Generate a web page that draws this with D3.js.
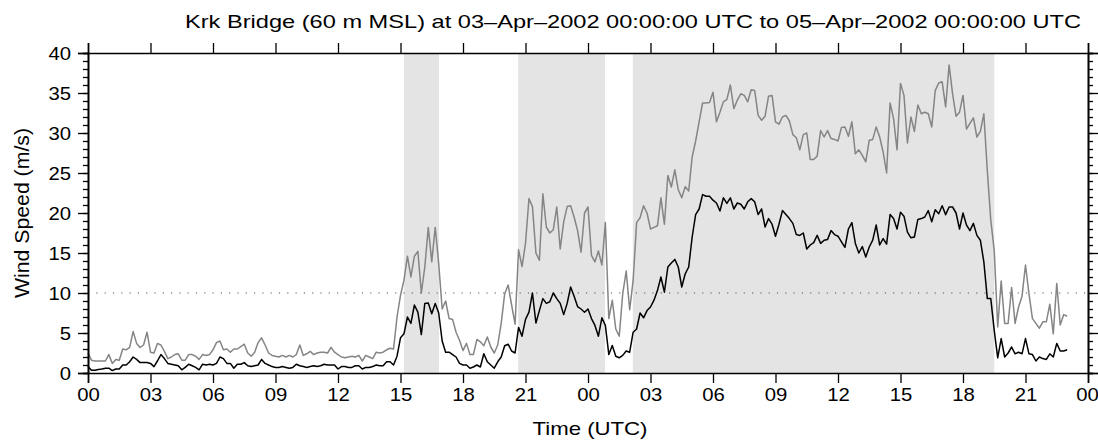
<!DOCTYPE html>
<html>
<head>
<meta charset="utf-8">
<script src="https://cdn.jsdelivr.net/npm/d3@7"></script>
<style>
  html, body { margin: 0; padding: 0; background: #fff; }
  svg text { font-family: "Liberation Sans", Arial, Helvetica, sans-serif; fill: #000; }
</style>
</head>
<body>
<svg id="chart" width="1098" height="442"></svg>
<script>
// ---- data (10-minute samples starting 03-Apr-2002 00:00 UTC) ----
const titleText = "Krk Bridge (60 m MSL) at 03\u2013Apr\u20132002 00:00:00 UTC to 05\u2013Apr\u20132002 00:00:00 UTC";
const xAxisTitle = "Time (UTC)";
const yAxisTitle = "Wind Speed (m/s)";
const startTime = "2002-04-03T00:00:00Z";
const endTime = "2002-04-05T00:00:00Z";
const stepMinutes = 10;

const meanSpeed = [
  0.8, 0.35, 0.35, 0.45, 0.5, 0.6,
  0.6, 0.3, 0.5, 0.5, 1.0, 1.0,
  1.4, 2.0, 1.7, 1.3, 1.3, 1.3,
  1.2, 0.8, 1.5, 2.3, 1.8, 1.2,
  1.1, 1.0, 0.9, 0.4, 0.7, 1.1,
  0.9, 0.7, 0.4, 1.1, 1.0, 1.1,
  1.0, 1.2, 2.0, 1.8, 1.2, 1.2,
  0.6, 1.1, 1.1, 1.3, 0.9, 0.8,
  0.9, 1.0, 1.7, 1.2, 1.0, 0.8,
  0.7, 0.7, 0.8, 0.7, 0.6, 0.7,
  1.1, 0.9, 0.8, 0.7, 0.8, 0.9,
  0.8, 0.9, 1.1, 1.0, 1.0, 1.0,
  0.5, 0.8, 0.8, 0.7, 0.7, 0.9,
  0.9, 0.5, 0.7, 0.7, 0.8, 1.0,
  0.9, 0.9, 1.4, 1.4, 1.0, 2.1,
  4.4, 4.9, 7.0, 6.2, 8.5, 7.6,
  4.8, 8.7, 8.75, 7.4, 8.7, 7.5,
  4.0, 2.6, 2.6, 2.3, 2.0, 1.2,
  1.0, 1.0, 0.6, 0.75, 1.0, 0.75,
  2.4, 1.4, 1.0, 0.6, 1.4, 2.0,
  3.4, 3.6, 2.75, 2.5, 5.7, 4.6,
  6.7, 7.6, 10.0, 6.25, 7.8, 9.3,
  8.7, 8.9, 10.0, 9.3, 8.7, 7.3,
  8.7, 10.75, 9.6, 8.3, 8.0, 7.6,
  8.0, 6.8, 5.95, 4.6, 6.9, 5.95,
  2.3, 3.45, 2.1, 1.9, 2.2, 2.75,
  2.6, 5.1, 5.5, 7.5, 6.9, 7.8,
  8.25, 9.1, 10.3, 12.0, 10.1, 13.25,
  13.75, 14.2, 13.25, 10.75, 12.4, 13.25,
  17.0, 19.8, 20.5, 22.3, 22.1, 22.1,
  21.6, 21.25, 20.25, 21.9, 21.2, 21.9,
  20.5, 21.25, 21.1, 20.5, 21.4, 21.8,
  21.4, 19.8, 20.5, 18.25, 19.3, 18.6,
  17.1, 18.6, 20.3, 19.8, 19.3, 18.7,
  17.3, 17.2, 17.5, 15.5, 16.0, 16.3,
  17.2, 16.2, 16.6, 16.7, 17.8, 17.3,
  17.1, 16.4, 15.7, 18.0, 18.8, 16.2,
  15.0, 15.8, 14.5, 15.75, 16.6, 18.5,
  16.0, 16.8, 16.1, 19.8, 19.3, 18.0,
  20.1, 19.6, 17.6, 16.9, 17.0, 19.2,
  19.3, 19.5, 20.3, 18.9, 20.4, 19.9,
  20.9, 19.8, 20.75, 20.75, 20.0, 18.0,
  20.0, 18.5, 17.8, 18.7, 17.2, 16.6,
  13.9, 9.3, 9.3, 5.3, 1.9, 4.3,
  2.0, 2.5, 3.25, 2.4, 2.6, 2.4,
  4.3, 2.4, 2.3, 1.5, 2.0, 1.8,
  1.7, 2.4, 2.0, 3.7, 2.75, 2.75,
  2.9
];

const gustSpeed = [
  2.5, 1.6, 1.5, 1.5, 1.5, 1.5,
  2.3, 1.2, 1.7, 1.6, 3.0, 2.9,
  3.2, 5.2, 3.7, 3.2, 3.5, 5.1,
  2.6, 2.5, 3.7, 3.5, 2.7, 1.8,
  2.0, 2.3, 2.4, 1.6, 1.6, 2.3,
  2.3, 2.1, 1.7, 2.3, 2.2, 2.3,
  2.9, 3.8, 4.0, 2.9, 3.0, 2.6,
  3.0, 3.0, 3.3, 3.6, 2.5, 2.1,
  2.6, 3.8, 4.4, 3.5, 2.5, 2.2,
  2.1, 2.0, 2.2, 2.0, 2.2, 2.0,
  2.3, 3.5, 2.2, 2.4, 2.7, 2.3,
  2.5, 2.6, 2.6, 2.5, 3.2, 2.6,
  2.3, 2.0, 1.9, 2.0, 2.1, 2.0,
  2.2, 1.5, 2.2, 2.0, 1.8, 2.6,
  2.5, 2.6, 2.9, 3.1, 3.0, 7.0,
  9.7, 11.6, 14.6, 12.0, 14.6, 15.2,
  10.0, 13.25, 18.2, 13.9, 18.2, 13.7,
  8.0, 9.0, 6.8, 6.7, 5.1, 4.1,
  2.8, 3.7, 2.3, 2.3, 4.2, 3.9,
  3.4, 4.5, 3.25, 2.5, 3.5, 6.2,
  9.9, 11.0, 8.5, 6.1, 15.4, 13.3,
  16.2, 21.8, 20.8, 15.0, 14.1, 22.4,
  18.25, 17.5, 17.9, 20.75, 15.5, 18.9,
  20.8, 20.9, 19.5, 17.8, 15.1, 20.0,
  20.75, 14.7, 13.9, 15.25, 13.5, 18.8,
  6.8, 9.1, 5.5, 4.6, 9.9, 12.75,
  7.9, 11.6, 18.8, 19.4, 20.9, 20.0,
  18.0, 18.2, 18.4, 21.9, 18.6, 24.7,
  23.25, 25.4, 22.9, 21.9, 23.3, 22.75,
  27.0, 29.0, 31.4, 33.75, 33.75, 33.8,
  35.1, 31.4, 32.6, 33.9, 34.2, 36.0,
  33.05, 34.1, 34.9, 34.7, 33.9, 35.4,
  35.3, 32.2, 31.6, 32.1, 34.6, 34.7,
  31.4, 31.1, 32.0, 32.2, 31.5, 29.8,
  29.4, 27.9, 29.8, 30.0, 26.7, 26.7,
  27.1, 30.3, 29.5, 30.3, 29.3, 29.2,
  29.0, 30.7, 30.75, 29.6, 31.4, 27.4,
  27.9, 27.2, 26.4, 29.1, 29.2, 30.75,
  29.5, 27.6, 25.0, 33.75, 31.8, 27.9,
  36.2, 34.7, 28.75, 32.0, 30.2, 33.5,
  32.4, 32.6, 32.4, 30.75, 35.3, 36.25,
  36.4, 33.25, 38.5, 34.9, 32.1, 32.6,
  34.7, 30.5, 31.2, 31.9, 29.5, 30.2,
  32.4, 25.3, 19.1, 15.3, 5.75, 11.5,
  6.2, 6.2, 10.7, 6.2, 8.25, 9.6,
  13.5, 9.9, 6.8, 6.2, 5.6, 6.4,
  6.4, 8.6, 4.9, 11.2, 6.0, 7.3,
  7.1
];

// shaded periods [start, end]
const shadeStarts = ["2002-04-03T15:10:00Z", "2002-04-03T20:39:00Z", "2002-04-04T02:09:00Z"];
const shadeEnds   = ["2002-04-03T16:51:00Z", "2002-04-04T00:49:00Z", "2002-04-04T19:30:00Z"];

const yTicks = [0, 5, 10, 15, 20, 25, 30, 35, 40];
const threshold = 10;

// ---- layout ----
const W = 1098, H = 442;
const margin = { top: 53, right: 10, bottom: 69, left: 88 };
const iw = W - margin.left - margin.right;
const ih = H - margin.top - margin.bottom;

const svg = d3.select("#chart");
const g = svg.append("g").attr("transform", `translate(${margin.left},${margin.top})`);

const t0 = new Date(startTime);
const times = meanSpeed.map((_, i) => new Date(t0.getTime() + i * stepMinutes * 60000));

const x = d3.scaleUtc().domain([new Date(startTime), new Date(endTime)]).range([0, iw]);
const y = d3.scaleLinear().domain([0, 40]).range([ih, 0]);

// shading
g.append("g").selectAll("rect")
  .data(shadeStarts.map((s, i) => [new Date(s), new Date(shadeEnds[i])]))
  .join("rect")
  .attr("x", d => x(d[0]))
  .attr("width", d => x(d[1]) - x(d[0]))
  .attr("y", 0)
  .attr("height", ih)
  .attr("fill", "#e4e4e4");

// threshold dotted line
g.append("line")
  .attr("x1", 0).attr("x2", iw)
  .attr("y1", y(threshold)).attr("y2", y(threshold))
  .attr("stroke", "#555")
  .attr("stroke-width", 1.2)
  .attr("stroke-dasharray", "1.2 7.1");

const line = d3.line().x((d, i) => x(times[i])).y(d => y(d));

g.append("path").datum(gustSpeed)
  .attr("d", line).attr("fill", "none")
  .attr("stroke", "#858585").attr("stroke-width", 1.5).attr("stroke-linejoin", "round");

g.append("path").datum(meanSpeed)
  .attr("d", line).attr("fill", "none")
  .attr("stroke", "#000").attr("stroke-width", 1.5).attr("stroke-linejoin", "round");

// axes
const xTickVals = d3.utcHour.every(3).range(new Date(startTime), new Date(new Date(endTime).getTime() + 1));
const fmtH = d3.utcFormat("%H");
const fontSize = 19;

const xb = g.append("g").attr("transform", `translate(0,${ih})`)
  .call(d3.axisBottom(x).tickValues(xTickVals).tickFormat(fmtH).tickSize(10).tickPadding(5));
const xt = g.append("g")
  .call(d3.axisTop(x).tickValues(xTickVals).tickFormat("").tickSize(10));

const minorY = d3.range(0, 41, 1);
const yl = g.append("g")
  .call(d3.axisLeft(y).tickValues(minorY).tickFormat("").tickSize(5));
const yl2 = g.append("g")
  .call(d3.axisLeft(y).tickValues(yTicks).tickFormat(d3.format("d")).tickSize(10).tickPadding(7));
const yr = g.append("g").attr("transform", `translate(${iw},0)`)
  .call(d3.axisRight(y).tickValues(minorY).tickFormat("").tickSize(5));
const yr2 = g.append("g").attr("transform", `translate(${iw},0)`)
  .call(d3.axisRight(y).tickValues(yTicks).tickFormat("").tickSize(10));

[xb, xt, yl, yl2, yr, yr2].forEach(a => {
  a.select(".domain").attr("stroke", "#000").attr("stroke-width", 1.6);
  a.selectAll(".tick line").attr("stroke", "#000").attr("stroke-width", 1.3);
  a.selectAll(".tick text").filter(function() { return this.textContent.length > 0; })
    .attr("font-size", fontSize)
    .attr("font-family", "Liberation Sans, Arial, sans-serif").attr("fill", "#000")
    .attr("textLength", function() { return 11.3 * this.textContent.length; })
    .attr("lengthAdjust", "spacingAndGlyphs");
});
// keep the last bottom label inside the page
xb.selectAll(".tick text").filter((d, i, n) => i === n.length - 1).attr("dx", -1);

// titles
svg.append("text")
  .attr("x", 185).attr("y", 28)
  .attr("text-anchor", "start").attr("font-size", 18.5)
  .attr("textLength", 896).attr("lengthAdjust", "spacingAndGlyphs")
  .text(titleText);

svg.append("text")
  .attr("x", 590).attr("y", H - 7)
  .attr("text-anchor", "middle").attr("font-size", fontSize)
  .attr("textLength", 115).attr("lengthAdjust", "spacingAndGlyphs")
  .text(xAxisTitle);

svg.append("text")
  .attr("transform", `translate(29,${margin.top + ih / 2}) rotate(-90)`)
  .attr("text-anchor", "middle").attr("font-size", 19.5)
  .attr("textLength", 170).attr("lengthAdjust", "spacingAndGlyphs")
  .text(yAxisTitle);
</script>
</body>
</html>
